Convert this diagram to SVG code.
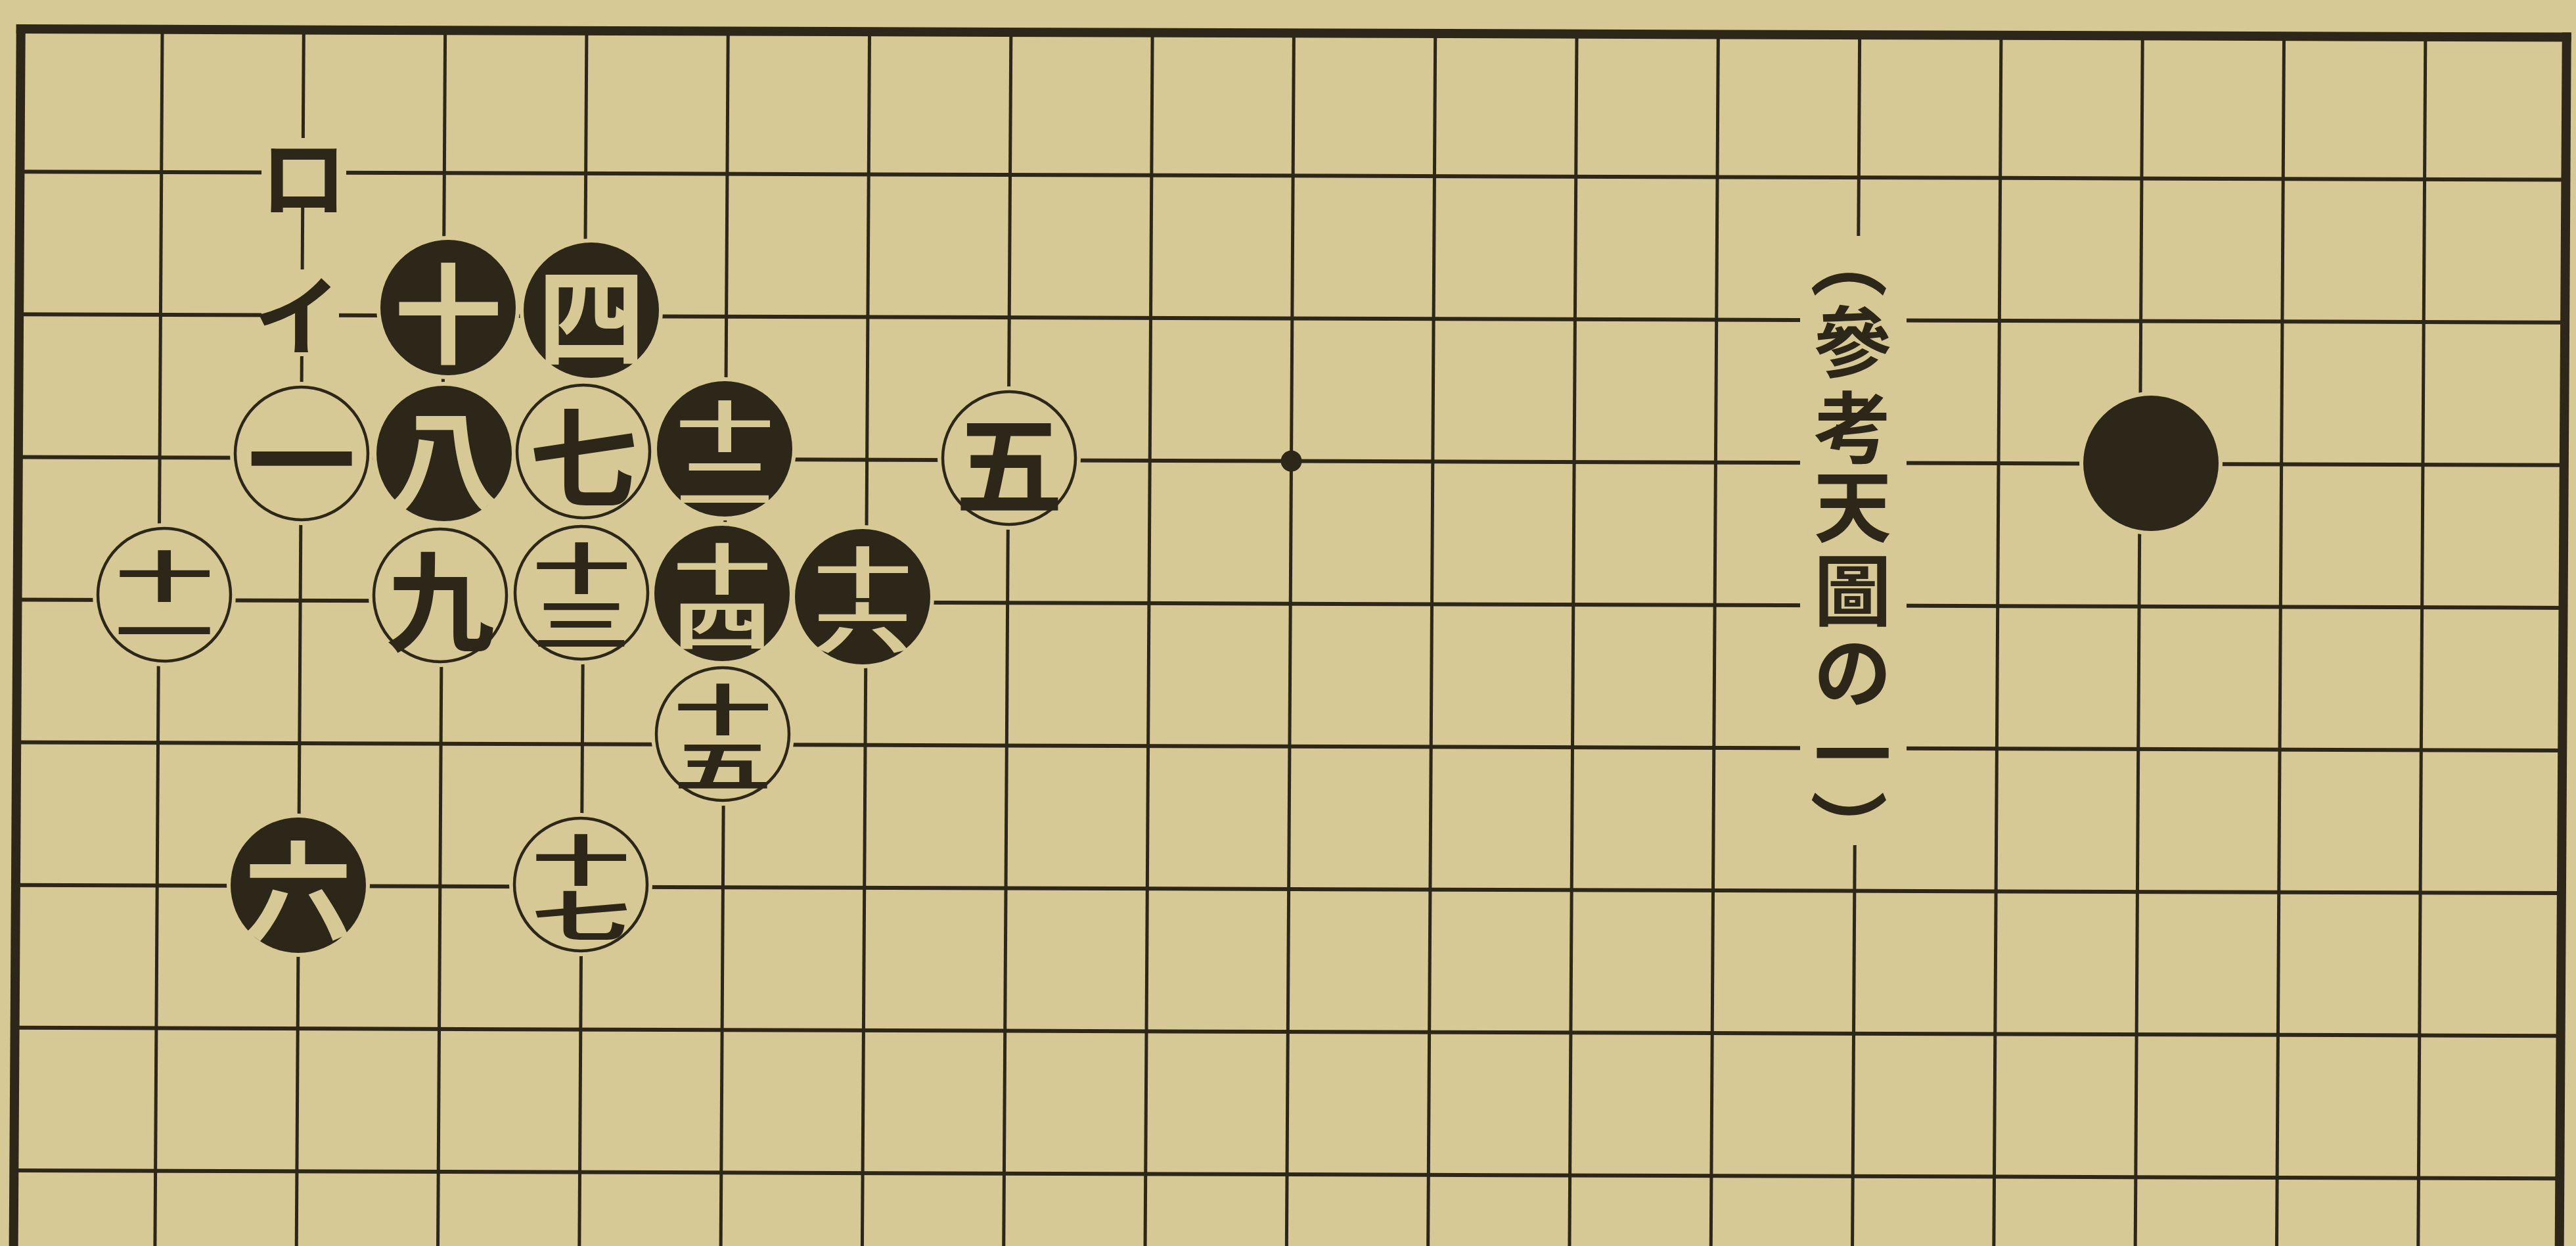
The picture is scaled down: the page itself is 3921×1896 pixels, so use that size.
<svg xmlns="http://www.w3.org/2000/svg" width="3921" height="1896" viewBox="0 0 3921 1896">
<style>
.paper{fill:#d7c996}
.ln{stroke:#2c2719;stroke-width:5;fill:none}
.hl{stroke:#2c2719;stroke-width:6;fill:none}
.edge{stroke:#2c2719;stroke-width:14;fill:none}
.halo{fill:#d7c996}
.w{fill:#d7c996;stroke:#2c2719;stroke-width:4.5}
.b{fill:#2c2719}
.t{font-family:"Noto Sans CJK JP","Noto Sans CJK SC",sans-serif;font-weight:700;text-anchor:middle;dominant-baseline:central}
.tw{fill:#2c2719;font-size:165px}
.tb{fill:#d7c996;font-size:165px}
.sw{fill:#2c2719;font-size:150px}
.sb{fill:#d7c996;font-size:150px}
.lab{fill:#2c2719;font-size:132px}
.cap{fill:#2c2719;font-size:118px}
</style>
<rect x="0" y="0" width="3921" height="1896" class="paper"/>
<g id="board" transform="matrix(1 0.0032 -0.006 1 0 0)">
  <g id="rows">
    <line class="hl" x1="32" y1="261.1" x2="3907" y2="261.1"/>
    <line class="hl" x1="32" y1="478.2" x2="3907" y2="478.2"/>
    <line class="hl" x1="32" y1="695.3" x2="3907" y2="695.3"/>
    <line class="hl" x1="32" y1="912.4" x2="3907" y2="912.4"/>
    <line class="hl" x1="32" y1="1129.5" x2="3907" y2="1129.5"/>
    <line class="hl" x1="32" y1="1346.6" x2="3907" y2="1346.6"/>
    <line class="hl" x1="32" y1="1563.7" x2="3907" y2="1563.7"/>
    <line class="hl" x1="32" y1="1780.8" x2="3907" y2="1780.8"/>
  </g>
  <g id="cols">
    <line class="ln" x1="247.3" y1="44" x2="247.3" y2="1910"/>
    <line class="ln" x1="462.6" y1="44" x2="462.6" y2="1910"/>
    <line class="ln" x1="677.9" y1="44" x2="677.9" y2="1910"/>
    <line class="ln" x1="893.2" y1="44" x2="893.2" y2="1910"/>
    <line class="ln" x1="1108.5" y1="44" x2="1108.5" y2="1910"/>
    <line class="ln" x1="1323.8" y1="44" x2="1323.8" y2="1910"/>
    <line class="ln" x1="1539.1" y1="44" x2="1539.1" y2="1910"/>
    <line class="ln" x1="1754.4" y1="44" x2="1754.4" y2="1910"/>
    <line class="ln" x1="1969.7" y1="44" x2="1969.7" y2="1910"/>
    <line class="ln" x1="2185" y1="44" x2="2185" y2="1910"/>
    <line class="ln" x1="2400.3" y1="44" x2="2400.3" y2="1910"/>
    <line class="ln" x1="2615.6" y1="44" x2="2615.6" y2="1910"/>
    <line class="ln" x1="2830.9" y1="44" x2="2830.9" y2="1910"/>
    <line class="ln" x1="3046.2" y1="44" x2="3046.2" y2="1910"/>
    <line class="ln" x1="3261.5" y1="44" x2="3261.5" y2="1910"/>
    <line class="ln" x1="3476.8" y1="44" x2="3476.8" y2="1910"/>
    <line class="ln" x1="3692.1" y1="44" x2="3692.1" y2="1910"/>
  </g>
  <g id="edges">
    <line class="edge" x1="25" y1="44" x2="3914" y2="44"/>
    <line class="edge" x1="32" y1="37" x2="32" y2="1910"/>
    <line class="edge" x1="3907" y1="37" x2="3907" y2="1910"/>
  </g>
  <circle id="hoshi" cx="1969.7" cy="695.3" r="16" class="b"/>
</g>
<g id="halos">
  <rect class="halo" x="398" y="210" width="129" height="102"/>
  <rect class="halo" x="398" y="410" width="118" height="132"/>
  <rect class="halo" x="2740" y="359" width="162" height="927"/>
  <circle class="halo" cx="459" cy="690" r="109"/>
  <circle class="halo" cx="888" cy="687" r="109"/>
  <circle class="halo" cx="1536" cy="697" r="109"/>
  <circle class="halo" cx="250" cy="905" r="109"/>
  <circle class="halo" cx="670" cy="906" r="109"/>
  <circle class="halo" cx="885" cy="902" r="109"/>
  <circle class="halo" cx="1100" cy="1117" r="109"/>
  <circle class="halo" cx="884" cy="1346" r="109"/>
  <circle class="halo" cx="682" cy="468" r="109"/>
  <circle class="halo" cx="900" cy="472" r="109"/>
  <circle class="halo" cx="676" cy="690" r="109"/>
  <circle class="halo" cx="1103" cy="683" r="109"/>
  <circle class="halo" cx="1099" cy="903" r="109"/>
  <circle class="halo" cx="1313" cy="908" r="109"/>
  <circle class="halo" cx="454" cy="1347" r="109"/>
  <circle class="halo" cx="3274" cy="705" r="109"/>
</g>
<g id="label-ro"><text class="t lab" x="462" y="262">ロ</text></g>
<g id="label-i"><text class="t lab" x="452" y="472">イ</text></g>
<g id="s1"><circle class="w" cx="459" cy="690" r="101"/><text class="t tw" x="459" y="690">一</text></g>
<g id="s4"><circle class="b" cx="900" cy="472" r="103"/><text class="t tb" x="900" y="472">四</text></g>
<g id="s5"><circle class="w" cx="1536" cy="697" r="101"/><text class="t tw" x="1536" y="697">五</text></g>
<g id="s6"><circle class="b" cx="454" cy="1347" r="103"/><text class="t tb" x="454" y="1347">六</text></g>
<g id="s7"><circle class="w" cx="888" cy="687" r="101"/><text class="t tw" x="888" y="687">七</text></g>
<g id="s8"><circle class="b" cx="676" cy="690" r="103"/><text class="t tb" x="676" y="690">八</text></g>
<g id="s9"><circle class="w" cx="670" cy="906" r="101"/><text class="t tw" x="670" y="906">九</text></g>
<g id="s10"><circle class="b" cx="682" cy="468" r="103"/><text class="t tb" x="682" y="468">十</text></g>
<g id="s11"><circle class="w" cx="250" cy="905" r="101"/><text class="t sw" transform="translate(250 905) scale(1 0.55)"><tspan x="0" y="-60">十</tspan><tspan x="0" y="92">一</tspan></text></g>
<g id="s12"><circle class="b" cx="1103" cy="683" r="103"/><text class="t sb" transform="translate(1103 683) scale(1 0.55)"><tspan x="0" y="-72">十</tspan><tspan x="0" y="82">二</tspan></text></g>
<g id="s13"><circle class="w" cx="885" cy="902" r="101"/><text class="t sw" transform="translate(885 902) scale(1 0.55)"><tspan x="0" y="-76">十</tspan><tspan x="0" y="78">三</tspan></text></g>
<g id="s14"><circle class="b" cx="1099" cy="903" r="103"/><text class="t sb" transform="translate(1099 903) scale(1 0.55)"><tspan x="0" y="-76">十</tspan><tspan x="0" y="78">四</tspan></text></g>
<g id="s15"><circle class="w" cx="1100" cy="1117" r="101"/><text class="t sw" transform="translate(1100 1117) scale(1 0.55)"><tspan x="0" y="-76">十</tspan><tspan x="0" y="78">五</tspan></text></g>
<g id="s16"><circle class="b" cx="1313" cy="908" r="103"/><text class="t sb" transform="translate(1313 908) scale(1 0.55)"><tspan x="0" y="-76">十</tspan><tspan x="0" y="78">六</tspan></text></g>
<g id="s17"><circle class="w" cx="884" cy="1346" r="101"/><text class="t sw" transform="translate(884 1346) scale(1 0.55)"><tspan x="0" y="-76">十</tspan><tspan x="0" y="78">七</tspan></text></g>
<g id="stone-black"><circle class="b" cx="3274" cy="705" r="103"/></g>
<g id="caption">
  <text class="t cap" transform="translate(2820 396) rotate(90)" x="0" y="0">（</text>
  <text class="t cap"><tspan x="2820" y="513">參</tspan><tspan x="2820" y="643">考</tspan><tspan x="2820" y="763">天</tspan><tspan x="2820" y="891">圖</tspan><tspan x="2820" y="1015">の</tspan><tspan x="2820" y="1140">一</tspan></text>
  <text class="t cap" transform="translate(2820 1260) rotate(90)" x="0" y="0">）</text>
</g>
</svg>
